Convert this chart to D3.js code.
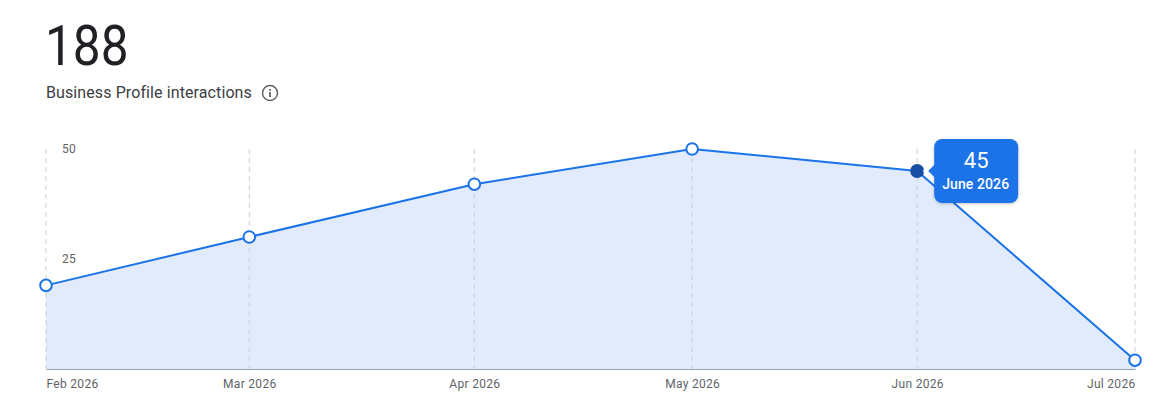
<!DOCTYPE html>
<html>
<head>
<meta charset="utf-8">
<script src="https://cdn.jsdelivr.net/npm/d3@7"></script>
<style>
  html, body { margin: 0; padding: 0; background: #fff; overflow: hidden; }
  text { font-family: Roboto, sans-serif; }
</style>
</head>
<body>
<svg id="chart" width="1163" height="419"></svg>
<script>
var months = ["2026-02-01", "2026-03-01", "2026-04-01", "2026-05-01", "2026-06-01", "2026-07-01"];
var values = [19, 30, 42, 50, 45, 2];
var tickLabels = ["Feb 2026", "Mar 2026", "Apr 2026", "May 2026", "Jun 2026", "Jul 2026"];
var yTicks = [25, 50];
var total = "188";
var metric = "Business Profile interactions";
var focusIndex = 4;
var focusLabel = "June 2026";

var parse = d3.utcParse("%Y-%m-%d");
var data = months.map(function (m, i) { return { date: parse(m), value: values[i] }; });

var svg = d3.select("#chart");
var margin = { top: 149, right: 28, bottom: 50, left: 46 },
    width = 1163 - margin.left - margin.right,
    height = 419 - margin.top - margin.bottom;

var x = d3.scaleUtc().domain(d3.extent(data, function (d) { return d.date; })).range([margin.left, margin.left + width]);
var y = d3.scaleLinear().domain([0, 50]).range([margin.top + height, margin.top]);

// header, the number is a bit narrower than plain Roboto
svg.append("text").attr("transform", "translate(45,65) scale(0.885,1)").attr("font-size", 56).attr("fill", "#202124").text(total);
svg.append("text").attr("x", 46).attr("y", 98).attr("font-size", 16).attr("letter-spacing", "0.1px").attr("fill", "#3c4043").text(metric);

var info = svg.append("g").attr("transform", "translate(270,93)");
info.append("circle").attr("r", 7.5).attr("fill", "none").attr("stroke", "#5f6368").attr("stroke-width", 1.5);
info.append("rect").attr("x", -0.9).attr("y", -1).attr("width", 1.8).attr("height", 5).attr("fill", "#5f6368");
info.append("rect").attr("x", -0.9).attr("y", -4).attr("width", 1.8).attr("height", 1.8).attr("fill", "#5f6368");

// area below the line
var area = d3.area()
    .x(function (d) { return x(d.date); })
    .y0(y(0))
    .y1(function (d) { return y(d.value); });
svg.append("path").datum(data).attr("d", area).attr("fill", "#e1ebfc");

// vertical dashed guides
svg.append("g").selectAll("line")
    .data(data)
    .enter().append("line")
    .attr("x1", function (d) { return x(d.date); })
    .attr("x2", function (d) { return x(d.date); })
    .attr("y1", y(50))
    .attr("y2", y(0))
    .attr("stroke", "#c9ced6")
    .attr("stroke-dasharray", "5,4");

// x axis
var xAxis = d3.axisBottom(x)
    .tickValues(data.map(function (d) { return d.date; }))
    .tickSize(0)
    .tickPadding(10)
    .tickFormat(function (d, i) { return tickLabels[i]; });
var gx = svg.append("g").attr("transform", "translate(0," + y(0) + ")").call(xAxis);
gx.select(".domain").attr("stroke", "#9aa0a6");
gx.selectAll("text")
    .attr("font-size", 12)
    .attr("letter-spacing", "0.3px")
    .attr("font-family", "Roboto, sans-serif")
    .attr("fill", "#5f6368")
    .attr("text-anchor", function (d, i) { return i === 0 ? "start" : i === data.length - 1 ? "end" : "middle"; });

// y labels sit inside the plot
var yAxis = d3.axisRight(y).tickValues(yTicks).tickSize(0).tickPadding(16);
var gy = svg.append("g").attr("transform", "translate(" + margin.left + ",0)").call(yAxis);
gy.select(".domain").remove();
gy.selectAll("text")
    .attr("font-size", 12)
    .attr("letter-spacing", "0.3px")
    .attr("font-family", "Roboto, sans-serif")
    .attr("fill", "#5f6368");

// line
var line = d3.line()
    .x(function (d) { return x(d.date); })
    .y(function (d) { return y(d.value); });
svg.append("path").datum(data).attr("d", line).attr("fill", "none").attr("stroke", "#1a73e8").attr("stroke-width", 2);

// points
svg.append("g").selectAll("circle")
    .data(data)
    .enter().append("circle")
    .attr("cx", function (d) { return x(d.date); })
    .attr("cy", function (d) { return y(d.value); })
    .attr("r", function (d, i) { return i === focusIndex ? 7 : 5.8; })
    .attr("fill", function (d, i) { return i === focusIndex ? "#174ea6" : "#fff"; })
    .attr("stroke", function (d, i) { return i === focusIndex ? "none" : "#1a73e8"; })
    .attr("stroke-width", 2);

// tooltip
var fx = x(data[focusIndex].date), fy = y(data[focusIndex].value);
var tip = svg.append("g").attr("transform", "translate(" + (fx + 17) + "," + (fy - 32) + ")");
var shadow = svg.append("defs").append("filter").attr("id", "tipShadow")
    .attr("x", "-20%").attr("y", "-20%").attr("width", "140%").attr("height", "140%");
shadow.append("feDropShadow").attr("dx", 0).attr("dy", 1).attr("stdDeviation", 1.5)
    .attr("flood-color", "#3c4043").attr("flood-opacity", 0.3);
// white halo round the pointer, it cuts into the line
tip.append("path").attr("d", "M0,23L-9,32L0,41")
    .attr("fill", "#fff").attr("stroke", "#fff").attr("stroke-width", 4).attr("stroke-linejoin", "round");
tip.append("rect").attr("width", 84).attr("height", 64).attr("rx", 8)
    .attr("fill", "#1a73e8").attr("filter", "url(#tipShadow)");
tip.append("path").attr("d", "M1,25L-6,32L1,39Z").attr("fill", "#1a73e8");
tip.append("text").attr("x", 42).attr("y", 29).attr("text-anchor", "middle")
    .attr("font-size", 22).attr("fill", "#fff").text(data[focusIndex].value);
tip.append("text").attr("x", 41.5).attr("y", 50).attr("text-anchor", "middle")
    .attr("font-size", 14).attr("font-weight", 500).attr("letter-spacing", "0.1px").attr("fill", "#fff").text(focusLabel);
</script>
</body>
</html>
